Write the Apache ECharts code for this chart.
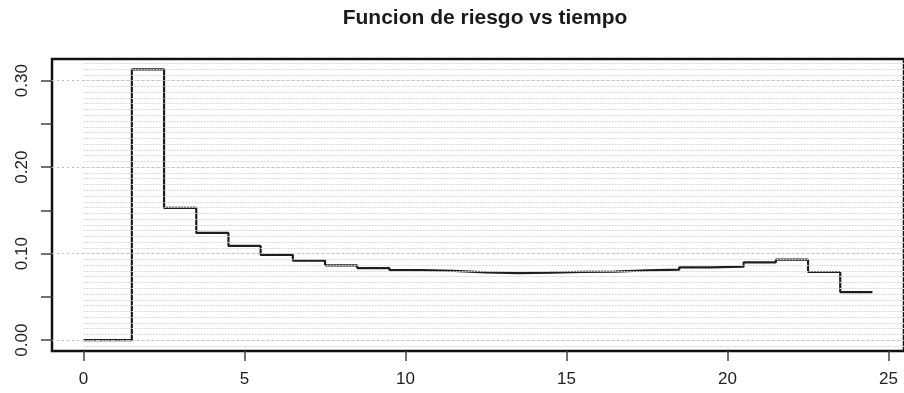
<!DOCTYPE html>
<html>
<head>
<meta charset="utf-8">
<script src="https://cdn.jsdelivr.net/npm/echarts@6/dist/echarts.min.js"></script>
<style>
  html, body { margin: 0; padding: 0; background: #fff; }
  #chart { width: 904px; height: 393px; }
</style>
</head>
<body>
<div id="chart"></div>
<script>
// Piecewise-constant hazard: value holds from each start time to the next
const startTimes = [0, 1.5, 2.5, 3.5, 4.5, 5.5, 6.5, 7.5, 8.5, 9.5, 10.5, 11.5,
                    12.5, 13.5, 14.5, 15.5, 16.5, 17.5, 18.5, 19.5, 20.5, 21.5, 22.5, 23.5];
const hazard = [0, 0.313, 0.153, 0.124, 0.109, 0.0985, 0.092, 0.0865, 0.0834, 0.081,
                0.080, 0.0784, 0.0776, 0.0782, 0.079, 0.0792, 0.0807, 0.0815, 0.0842,
                0.085, 0.090, 0.0931, 0.0788, 0.0556];
const endTime = 24.5;

const xTicks = [0, 5, 10, 15, 20, 25];
const yTicks = [0, 0.05, 0.10, 0.15, 0.20, 0.25, 0.30];
const yLabels = [0, 0.10, 0.20, 0.30];

// Reference lines: fine levels every 1/150 and heavier ones at the labelled values
const fineStep = 1 / 150;
const fineLevels = [];
for (let k = -1; k <= 48; k++) fineLevels.push(k * fineStep);

const xMin = -0.98, xMax = 25.48;
const yMin = -0.0125, yMax = 0.325;

const stepData = startTimes.map((t, i) => [t, hazard[i]]);
stepData.push([endTime, hazard[hazard.length - 1]]);

const fineLines = fineLevels.map(v => [
  { coord: [0, v] }, { coord: [xMax, v] }
]);
const majorLines = yLabels.map(v => [
  { coord: [xMin, v] }, { coord: [xMax, v] }
]);

const font = '"Liberation Sans", Arial, Helvetica, sans-serif';
const chart = echarts.init(document.getElementById('chart'), null, { renderer: 'canvas' });

chart.setOption({
  animation: false,
  backgroundColor: '#ffffff',
  title: {
    text: 'Funcion de riesgo vs tiempo',
    left: 480, textAlign: 'center', top: 3,
    textStyle: { fontFamily: font, fontSize: 21, fontWeight: 'bold', color: '#1a1a1a' }
  },
  grid: {
    left: 52, top: 59, right: -6, bottom: 42,
    show: true, borderColor: '#111', borderWidth: 2.5, backgroundColor: 'transparent'
  },
  xAxis: {
    type: 'value', min: xMin, max: xMax,
    axisLine: { show: false, onZero: false },
    splitLine: { show: false },
    axisTick: { show: true, length: 10, customValues: xTicks, lineStyle: { color: '#444', width: 1.5 } },
    axisLabel: {
      customValues: xTicks, margin: 20,
      fontFamily: font, fontSize: 17, color: '#222'
    }
  },
  yAxis: {
    type: 'value', min: yMin, max: yMax,
    axisLine: { show: false, onZero: false },
    splitLine: { show: false },
    axisTick: { show: true, length: 11, customValues: yTicks, lineStyle: { color: '#444', width: 1.5 } },
    axisLabel: {
      customValues: yLabels, rotate: 90, margin: 21,
      fontFamily: font, fontSize: 17, color: '#222',
      formatter: v => v.toFixed(2)
    }
  },
  series: [
    {
      type: 'line', data: [], z: 1, silent: true,
      markLine: {
        silent: true, symbol: ['none', 'none'], label: { show: false },
        lineStyle: { color: '#d9d9d9', width: 1, type: [2, 1] },
        emphasis: { disabled: true },
        data: fineLines
      }
    },
    {
      type: 'line', data: [], z: 1, silent: true,
      markLine: {
        silent: true, symbol: ['none', 'none'], label: { show: false },
        lineStyle: { color: '#c0c0c0', width: 1, type: [2, 3] },
        emphasis: { disabled: true },
        data: majorLines
      }
    },
    {
      type: 'line', step: 'end', data: stepData, z: 3,
      showSymbol: false, silent: true,
      lineStyle: { color: '#1e1e1e', width: 2.2 }
    }
  ]
});
</script>
</body>
</html>
